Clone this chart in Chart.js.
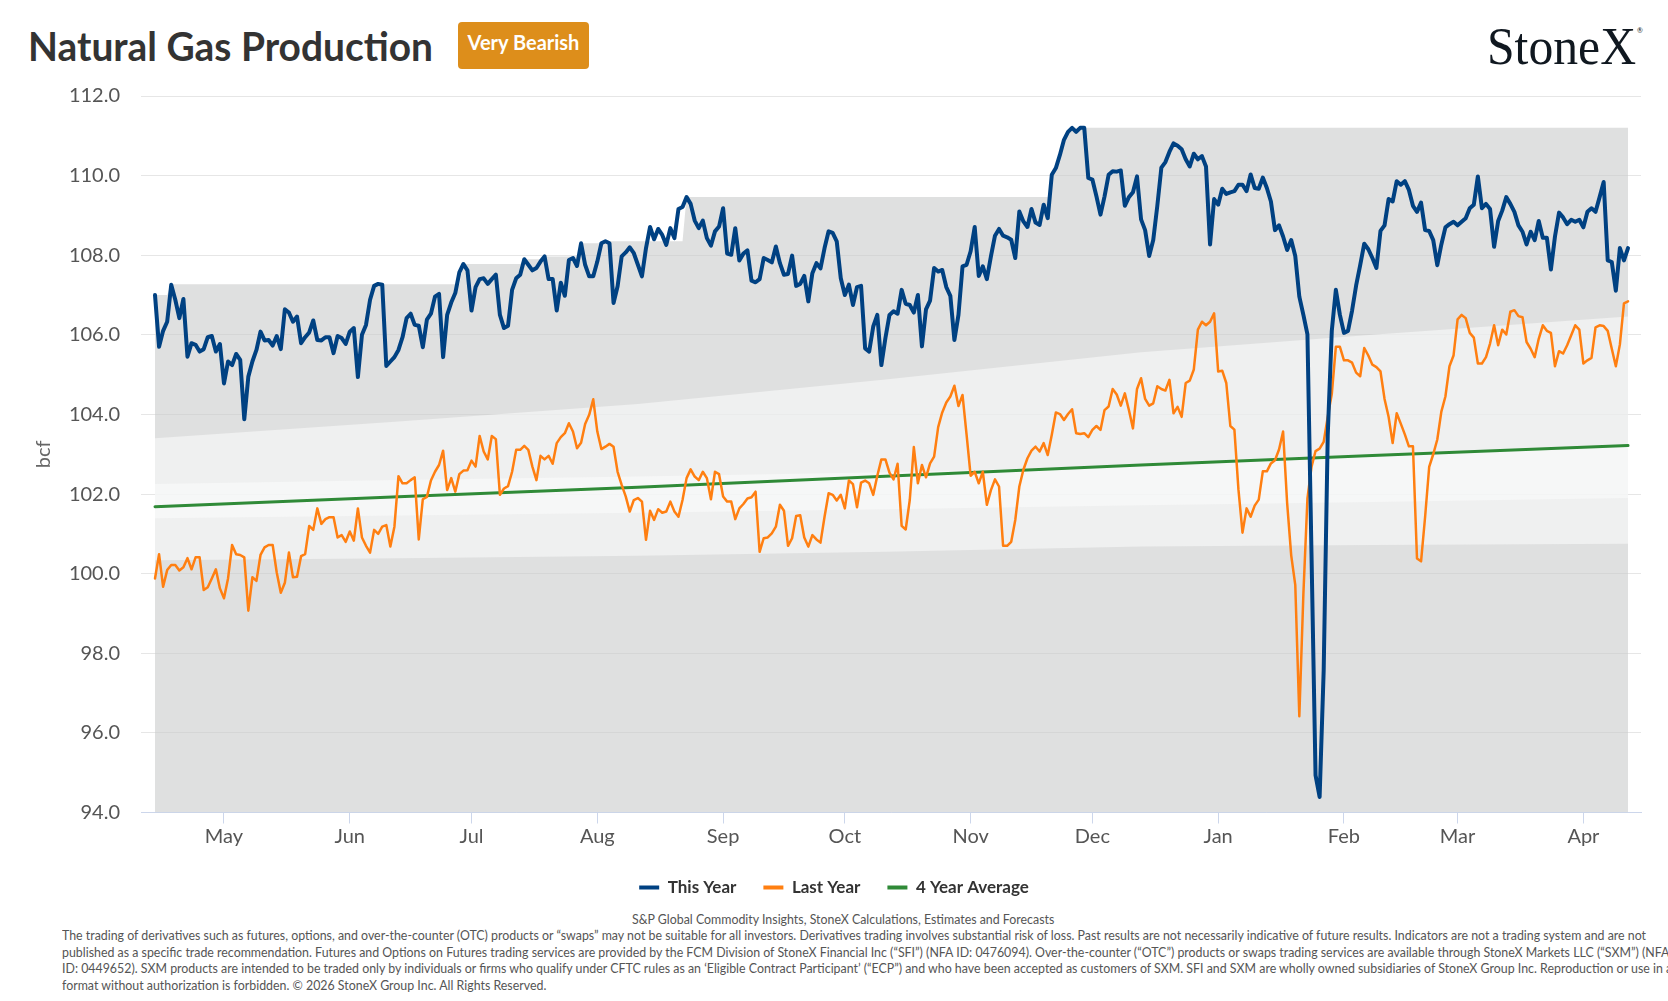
<!DOCTYPE html>
<html><head><meta charset="utf-8">
<script src="https://cdn.jsdelivr.net/npm/chart.js@4.4.1/dist/chart.umd.min.js"></script>
<style>
html,body{margin:0;padding:0;background:#fff;}
body{width:1668px;height:1001px;overflow:hidden;position:relative;font-family:Lato,'Noto Sans',sans-serif;}
#wrap{position:absolute;left:0;top:0;width:1668px;height:906px;}
#title{position:absolute;left:27.7px;top:26.2px;font-size:40px;line-height:40px;font-weight:700;color:#333;white-space:nowrap;transform-origin:left top;}
#badge{position:absolute;left:458px;top:22px;width:131px;height:47px;border-radius:4px;background:#dd8e1b;color:#fff;font-weight:700;font-size:20px;line-height:40px;text-align:center;}
#logo{position:absolute;left:1487px;top:19.9px;font-family:'Liberation Serif','Times New Roman',serif;font-size:53px;line-height:53px;color:#101820;white-space:nowrap;transform-origin:left top;}
#reg{position:absolute;left:1637px;top:27px;font-size:7px;line-height:7px;color:#101820;}
.foot{position:absolute;left:61.7px;font-size:12.5px;line-height:16px;color:#555;white-space:nowrap;transform-origin:left top;}
#source{position:absolute;left:632px;top:911.7px;font-size:12.5px;line-height:16px;color:#555;white-space:nowrap;transform-origin:left top;}
</style>
</head><body>
<div id="title">Natural Gas Production</div>
<div id="badge">Very Bearish</div>
<div id="logo">StoneX</div>
<div id="reg">®</div>
<div id="wrap"><canvas id="c" width="1668" height="906"></canvas></div>
<div id="source">S&amp;P Global Commodity Insights, StoneX Calculations, Estimates and Forecasts</div>
<div class="foot" id="f1" style="top:927.7px">The trading of derivatives such as futures, options, and over-the-counter (OTC) products or “swaps” may not be suitable for all investors. Derivatives trading involves substantial risk of loss. Past results are not necessarily indicative of future results. Indicators are not a trading system and are not</div>
<div class="foot" id="f2" style="top:944.7px">published as a specific trade recommendation. Futures and Options on Futures trading services are provided by the FCM Division of StoneX Financial Inc (“SFI”) (NFA ID: 0476094). Over-the-counter (“OTC”) products or swaps trading services are available through StoneX Markets LLC (“SXM”) (NFA</div>
<div class="foot" id="f3" style="top:960.7px">ID: 0449652). SXM products are intended to be traded only by individuals or firms who qualify under CFTC rules as an ‘Eligible Contract Participant’ (“ECP”) and who have been accepted as customers of SXM. SFI and SXM are wholly owned subsidiaries of StoneX Group Inc. Reproduction or use in any</div>
<div class="foot" id="f4" style="top:977.7px">format without authorization is forbidden. © 2026 StoneX Group Inc. All Rights Reserved.</div>
<script>
// Day index 0 = Apr 14 (first data point); one value per day
const monthTickDays = [17,48,78,109,140,170,201,231,262,293,321,352];
const monthLabels = ['May','Jun','Jul','Aug','Sep','Oct','Nov','Dec','Jan','Feb','Mar','Apr'];
const seriesNames = ['This Year','Last Year','4 Year Average'];

const thisYear = [
107.0,105.7,106.1,106.33,107.26,106.88,106.42,106.9,105.45,105.79,
105.75,105.58,105.64,105.94,105.97,105.58,105.77,104.78,105.33,105.24,
105.52,105.37,103.88,104.95,105.33,105.62,106.08,105.86,105.87,105.73,
105.97,105.64,106.64,106.56,106.33,106.46,105.79,105.94,106.06,106.36,
105.87,105.86,105.94,105.94,105.54,105.97,105.92,105.77,106.08,106.17,
104.94,106.0,106.25,106.88,107.23,107.28,107.26,105.22,105.33,105.44,
105.62,105.94,106.42,106.53,106.25,106.23,105.69,106.38,106.53,106.96,
107.03,105.44,106.5,106.81,107.05,107.57,107.78,107.62,106.61,107.2,
107.4,107.42,107.28,107.4,107.51,106.5,106.17,106.23,107.13,107.42,
107.51,107.9,107.76,107.62,107.68,107.84,107.97,107.4,107.4,106.61,
107.31,106.98,107.88,107.93,107.73,108.3,107.76,107.47,107.47,107.84,
108.3,108.35,108.3,106.8,107.22,107.97,108.07,108.2,108.05,107.76,
107.47,108.18,108.71,108.4,108.66,108.51,108.26,108.68,108.43,109.16,
109.21,109.46,109.29,108.87,108.68,108.87,108.43,108.24,108.6,108.72,
109.18,108.04,108.01,108.68,107.87,108.04,108.12,107.36,107.32,107.4,
107.93,107.88,107.82,108.22,107.8,107.51,107.53,107.99,107.23,107.28,
107.48,106.84,107.55,107.8,107.67,108.18,108.6,108.56,108.35,107.42,
107.0,107.26,106.75,107.2,107.23,105.66,105.58,106.21,106.5,105.24,
105.92,106.5,106.59,106.53,107.13,106.78,106.75,106.56,107.0,105.71,
106.64,106.86,107.68,107.59,107.63,107.2,106.98,105.87,106.5,107.72,
107.76,108.1,108.71,107.48,107.72,107.4,107.97,108.49,108.66,108.49,
108.45,108.39,107.93,109.1,108.85,108.71,109.16,108.82,108.76,109.27,
108.93,110.02,110.19,110.52,110.9,111.1,111.2,111.1,111.2,111.2,
109.94,109.9,109.48,109.02,109.48,110.02,110.11,110.1,110.13,109.24,
109.46,109.58,109.98,108.9,108.63,107.98,108.38,109.24,110.2,110.34,
110.6,110.81,110.75,110.66,110.41,110.23,110.55,110.41,110.49,110.23,
108.27,109.41,109.27,109.67,109.54,109.58,109.61,109.77,109.77,109.61,
110.03,109.69,109.67,109.95,109.69,109.35,108.63,108.75,108.47,108.13,
108.38,107.98,106.96,106.5,106.01,100.5,94.93,94.39,97.56,103.48,
106.1,107.13,106.5,106.05,106.1,106.61,107.24,107.75,108.29,108.15,
107.93,107.68,108.61,108.75,109.41,109.35,109.86,109.77,109.86,109.64,
109.24,109.09,109.32,108.63,108.61,108.38,107.75,108.27,108.7,108.78,
108.84,108.75,108.84,108.93,109.18,109.27,109.98,109.18,109.29,109.16,
108.21,108.86,109.12,109.46,109.29,109.09,108.75,108.59,108.27,108.59,
108.38,108.86,108.44,108.44,107.64,108.47,109.07,108.95,108.78,108.89,
108.84,108.89,108.7,109.09,109.18,109.09,109.46,109.84,107.87,107.83,
107.11,108.18,107.87,108.18];

const lastYear = [
99.88,100.49,99.67,100.09,100.22,100.22,100.08,100.16,100.39,100.11,
100.41,100.41,99.59,99.66,99.88,100.11,99.63,99.38,99.88,100.72,
100.49,100.47,100.41,99.07,99.91,99.82,100.47,100.66,100.72,100.72,
100.03,99.52,99.77,100.53,99.91,99.92,100.44,100.49,101.2,101.1,
101.64,101.25,101.37,101.42,101.42,100.91,100.97,100.8,101.06,100.83,
101.64,100.91,100.7,100.53,101.1,101.0,101.18,101.22,100.68,101.18,
102.45,102.27,102.27,102.35,102.42,100.86,101.87,101.93,102.34,102.56,
102.73,103.09,102.1,102.4,102.06,102.5,102.59,102.6,102.84,102.69,
103.46,103.07,102.87,103.46,103.38,101.98,102.14,102.2,102.56,103.11,
103.11,103.21,103.11,102.69,102.35,102.96,102.87,102.96,102.76,103.28,
103.43,103.53,103.78,103.57,103.15,103.29,103.76,103.99,104.38,103.57,
103.13,103.19,103.26,103.19,102.56,102.23,101.94,101.56,101.85,101.9,
101.81,100.85,101.58,101.35,101.62,101.53,101.56,101.81,101.56,101.43,
101.85,102.4,102.62,102.44,102.35,102.56,102.4,101.87,102.56,102.5,
101.94,101.81,101.81,101.37,101.64,101.75,101.89,101.92,102.06,100.55,
100.89,100.91,101.01,101.18,101.73,101.58,100.7,100.89,101.45,101.47,
100.91,100.68,100.97,100.86,100.78,101.43,102.02,101.98,101.84,101.98,
101.64,102.34,102.25,101.67,102.29,102.34,102.27,101.98,102.46,102.87,
102.87,102.54,102.37,102.76,101.2,101.11,101.85,103.18,102.27,102.73,
102.42,102.77,102.94,103.68,104.05,104.3,104.45,104.72,104.21,104.49,
103.49,102.46,102.56,102.27,102.56,101.73,102.1,102.37,102.19,100.7,
100.7,100.8,101.35,102.19,102.61,102.9,103.09,103.19,103.07,103.28,
102.98,103.49,104.05,104.01,103.86,104.01,104.13,103.53,103.51,103.53,
103.43,103.61,103.71,103.61,104.11,104.2,104.64,104.5,104.22,104.53,
104.11,103.65,104.64,104.91,104.39,104.22,104.28,104.71,104.64,104.6,
104.87,104.03,104.19,103.94,104.79,104.85,105.13,106.13,106.33,106.24,
106.33,106.54,105.08,105.1,104.79,103.71,103.62,102.11,101.03,101.64,
101.43,101.71,101.86,102.57,102.57,102.77,102.85,103.12,103.57,101.77,
100.46,99.72,96.42,99.49,101.89,102.68,103.08,103.14,103.31,103.94,
104.51,105.7,105.7,105.36,105.36,105.3,105.05,104.96,105.67,105.48,
105.25,105.19,105.08,104.39,103.94,103.28,104.03,103.77,103.5,103.2,
103.2,100.38,100.31,101.43,102.68,103.0,103.37,104.07,104.45,105.21,
105.48,106.39,106.5,106.42,106.05,105.93,105.28,105.28,105.44,105.78,
106.24,105.74,106.13,106.01,106.58,106.62,106.47,106.44,105.82,105.65,
105.44,105.9,106.24,106.1,106.05,105.21,105.59,105.53,105.74,105.99,
106.24,106.13,105.28,105.36,105.42,106.19,106.24,106.22,106.1,105.65,
105.21,105.76,106.79,106.84];

// 4-year average, read at a few dates (day index)
const avgDays   = [0, 60, 119, 180, 243, 300, 363];
const avgValues = [101.68, 101.93, 102.17, 102.45, 102.73, 102.97, 103.22];

// Shaded ranges (day index / value)
const rangeMaxDays   = [0,3,4,75,76,90,91,95,96,104,105,110,111,130,131,220,221,222,223,224,225,226,363];
const rangeMaxValues = [107.0,107.0,107.27,107.27,107.78,107.78,107.9,107.9,107.97,107.97,108.3,108.3,108.35,108.35,109.46,109.46,110.02,110.19,110.52,110.9,111.1,111.2,111.2];
const bandDays        = [0, 60, 119, 180, 243, 300, 363];
const outerUpper      = [103.4, 103.82, 104.26, 104.88, 105.56, 106.0, 106.46];
const outerLower      = [100.34, 100.39, 100.45, 100.55, 100.68, 100.72, 100.75];
const innerUpper      = [102.25, 102.35, 102.44, 102.55, 102.7, 102.95, 103.2];
const innerLower      = [101.39, 101.46, 101.53, 101.62, 101.72, 101.8, 101.9];

const seriesColors = ['#004182', '#ff7f11', '#2f8a37'];

const pts = (xs, ys) => ys.map((v, i) => ({x: xs[i], y: v}));
const daily = (ys) => ys.map((v, i) => ({x: i, y: v}));
const base = {pointRadius: 0, tension: 0, borderJoinStyle: 'round', borderCapStyle: 'round'};

const datasets = [
  Object.assign({}, base, {label: seriesNames[0], data: daily(thisYear), borderColor: seriesColors[0], borderWidth: 4, fill: false}),
  Object.assign({}, base, {label: seriesNames[1], data: daily(lastYear), borderColor: seriesColors[1], borderWidth: 2.5, fill: false}),
  Object.assign({}, base, {label: seriesNames[2], data: pts(avgDays, avgValues), borderColor: seriesColors[2], borderWidth: 3, fill: false}),
  Object.assign({}, base, {label: 'inner upper', data: pts(bandDays, innerUpper), borderWidth: 0, borderColor: 'rgba(0,0,0,0)', backgroundColor: 'rgba(255,255,255,0.45)', fill: {target: 4}}),
  Object.assign({}, base, {label: 'inner lower', data: pts(bandDays, innerLower), borderWidth: 0, borderColor: 'rgba(0,0,0,0)', fill: false}),
  Object.assign({}, base, {label: 'outer upper', data: pts(bandDays, outerUpper), borderWidth: 0, borderColor: 'rgba(0,0,0,0)', backgroundColor: 'rgba(255,255,255,0.5)', fill: {target: 6}}),
  Object.assign({}, base, {label: 'outer lower', data: pts(bandDays, outerLower), borderWidth: 0, borderColor: 'rgba(0,0,0,0)', fill: false}),
  Object.assign({}, base, {label: 'range', data: pts(rangeMaxDays, rangeMaxValues), borderWidth: 0, borderColor: 'rgba(0,0,0,0)', backgroundColor: 'rgba(202,204,204,0.6)', fill: 'start'})
];

new Chart(document.getElementById('c'), {
  type: 'line',
  data: {datasets},
  options: {
    responsive: false,
    animation: false,
    events: [],
    layout: {padding: {top: 96, left: 27, right: 27, bottom: 0}},
    plugins: {
      tooltip: {enabled: false},
      legend: {
        position: 'bottom',
        labels: {
          boxWidth: 20, boxHeight: 4, padding: 27, color: '#333',
          font: {family: 'Lato', size: 17, weight: 'bold'},
          generateLabels: () => seriesNames.map((n, i) => ({text: n, fillStyle: seriesColors[i], strokeStyle: seriesColors[i], lineWidth: 0, hidden: false, datasetIndex: i, fontColor: '#333'}))
        }
      }
    },
    scales: {
      x: {
        type: 'linear', min: -3.45, max: 366.2, bounds: 'data',
        afterBuildTicks: (s) => { s.ticks = monthTickDays.map(v => ({value: v})); },
        afterFit: (s) => { s.height = 39.5; },
        grid: {drawOnChartArea: false, drawTicks: true, tickLength: 11, tickColor: '#ccd6eb'},
        border: {display: true, color: '#ccd6eb', width: 1},
        ticks: {padding: 1, autoSkip: false, maxRotation: 0, color: '#555', font: {family: 'Lato', size: 20},
          callback: (v) => monthLabels[monthTickDays.indexOf(v)]}
      },
      y: {
        min: 94, max: 112,
        afterFit: (s) => { s.width = 114; },
        grid: {color: '#e6e6e6', drawTicks: false, lineWidth: 1},
        border: {display: false},
        ticks: {stepSize: 2, padding: 21, color: '#555', font: {family: 'Lato', size: 20}, callback: (v) => v.toFixed(1)},
        title: {display: true, text: 'bcf', color: '#666', font: {family: 'Lato', size: 20}, padding: {top: 5, bottom: 0}}
      }
    }
  }
});

function fit(el, target) {
  const w = el.getBoundingClientRect().width;
  const k = target / w;
  el.style.transform = 'scaleX(' + k + ')';
  return k;
}
fit(document.getElementById('title'), 405);
fit(document.getElementById('logo'), 149);
const k = fit(document.getElementById('f1'), 1584);
['f2','f3','f4','source'].forEach(id => { document.getElementById(id).style.transform = 'scaleX(' + k + ')'; });
const src = document.getElementById('source');
const sw = src.getBoundingClientRect().width;
src.style.left = (843 - sw / 2) + 'px';
</script>
</body></html>
